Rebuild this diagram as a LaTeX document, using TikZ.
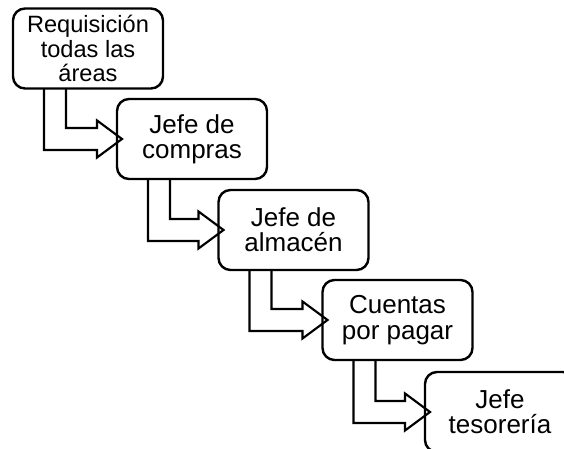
\documentclass[tikz,border=0pt]{standalone}
\usepackage{fontspec}
\setmainfont{Liberation Sans}
\usetikzlibrary{calc}

\begin{document}
\begin{tikzpicture}[x=0.75pt, y=0.75pt]
    \tikzset{paso/.style={rectangle, draw, line width=1.8pt, rounded corners=9pt, outer sep=0pt, inner sep=0pt, minimum width=112.5pt, minimum height=60pt, align=center, font=\fontsize{19.5}{19}\selectfont},
             flecha/.style={draw, line width=1.6pt, line join=miter}};
    \useasboundingbox (0,0) rectangle (564,449);
    \clip (0,0) rectangle (564,449);
    \node[paso, font=\fontsize{17.7}{18.5}\selectfont] (req) at (88,400.5) {Requisición\\todas las\\áreas};
    \node[paso] (com) at (192,310) {Jefe de\\compras};
    \node[paso] (alm) at (293.5,219) {Jefe de\\almacén};
    \node[paso] (cue) at (397.5,129) {Cuentas\\por pagar};
    \node[paso] (tes) at (500,37) {Jefe\\tesorería};
    % flechas dobladas entre pasos
    \draw[flecha] let \p1=(req.south west), \p2=(com.west) in
        (\x1+23.25pt,\y1) |- (\x2-15pt,\y2-8.25pt) -- (\x2-15pt,\y2-13.9pt) -- (\x2+3.75pt,\y2)
        -- (\x2-15pt,\y2+13.9pt) -- (\x2-15pt,\y2+8.25pt) -| (\x1+39.75pt,\y1);
    \draw[flecha] let \p1=(com.south west), \p2=(alm.west) in
        (\x1+23.25pt,\y1) |- (\x2-15pt,\y2-8.25pt) -- (\x2-15pt,\y2-13.9pt) -- (\x2+3.75pt,\y2)
        -- (\x2-15pt,\y2+13.9pt) -- (\x2-15pt,\y2+8.25pt) -| (\x1+39.75pt,\y1);
    \draw[flecha] let \p1=(alm.south west), \p2=(cue.west) in
        (\x1+23.25pt,\y1) |- (\x2-15pt,\y2-8.25pt) -- (\x2-15pt,\y2-13.9pt) -- (\x2+3.75pt,\y2)
        -- (\x2-15pt,\y2+13.9pt) -- (\x2-15pt,\y2+8.25pt) -| (\x1+39.75pt,\y1);
    \draw[flecha] let \p1=(cue.south west), \p2=(tes.west) in
        (\x1+23.25pt,\y1) |- (\x2-15pt,\y2-8.25pt) -- (\x2-15pt,\y2-13.9pt) -- (\x2+3.75pt,\y2)
        -- (\x2-15pt,\y2+13.9pt) -- (\x2-15pt,\y2+8.25pt) -| (\x1+39.75pt,\y1);
\end{tikzpicture}
\end{document}
